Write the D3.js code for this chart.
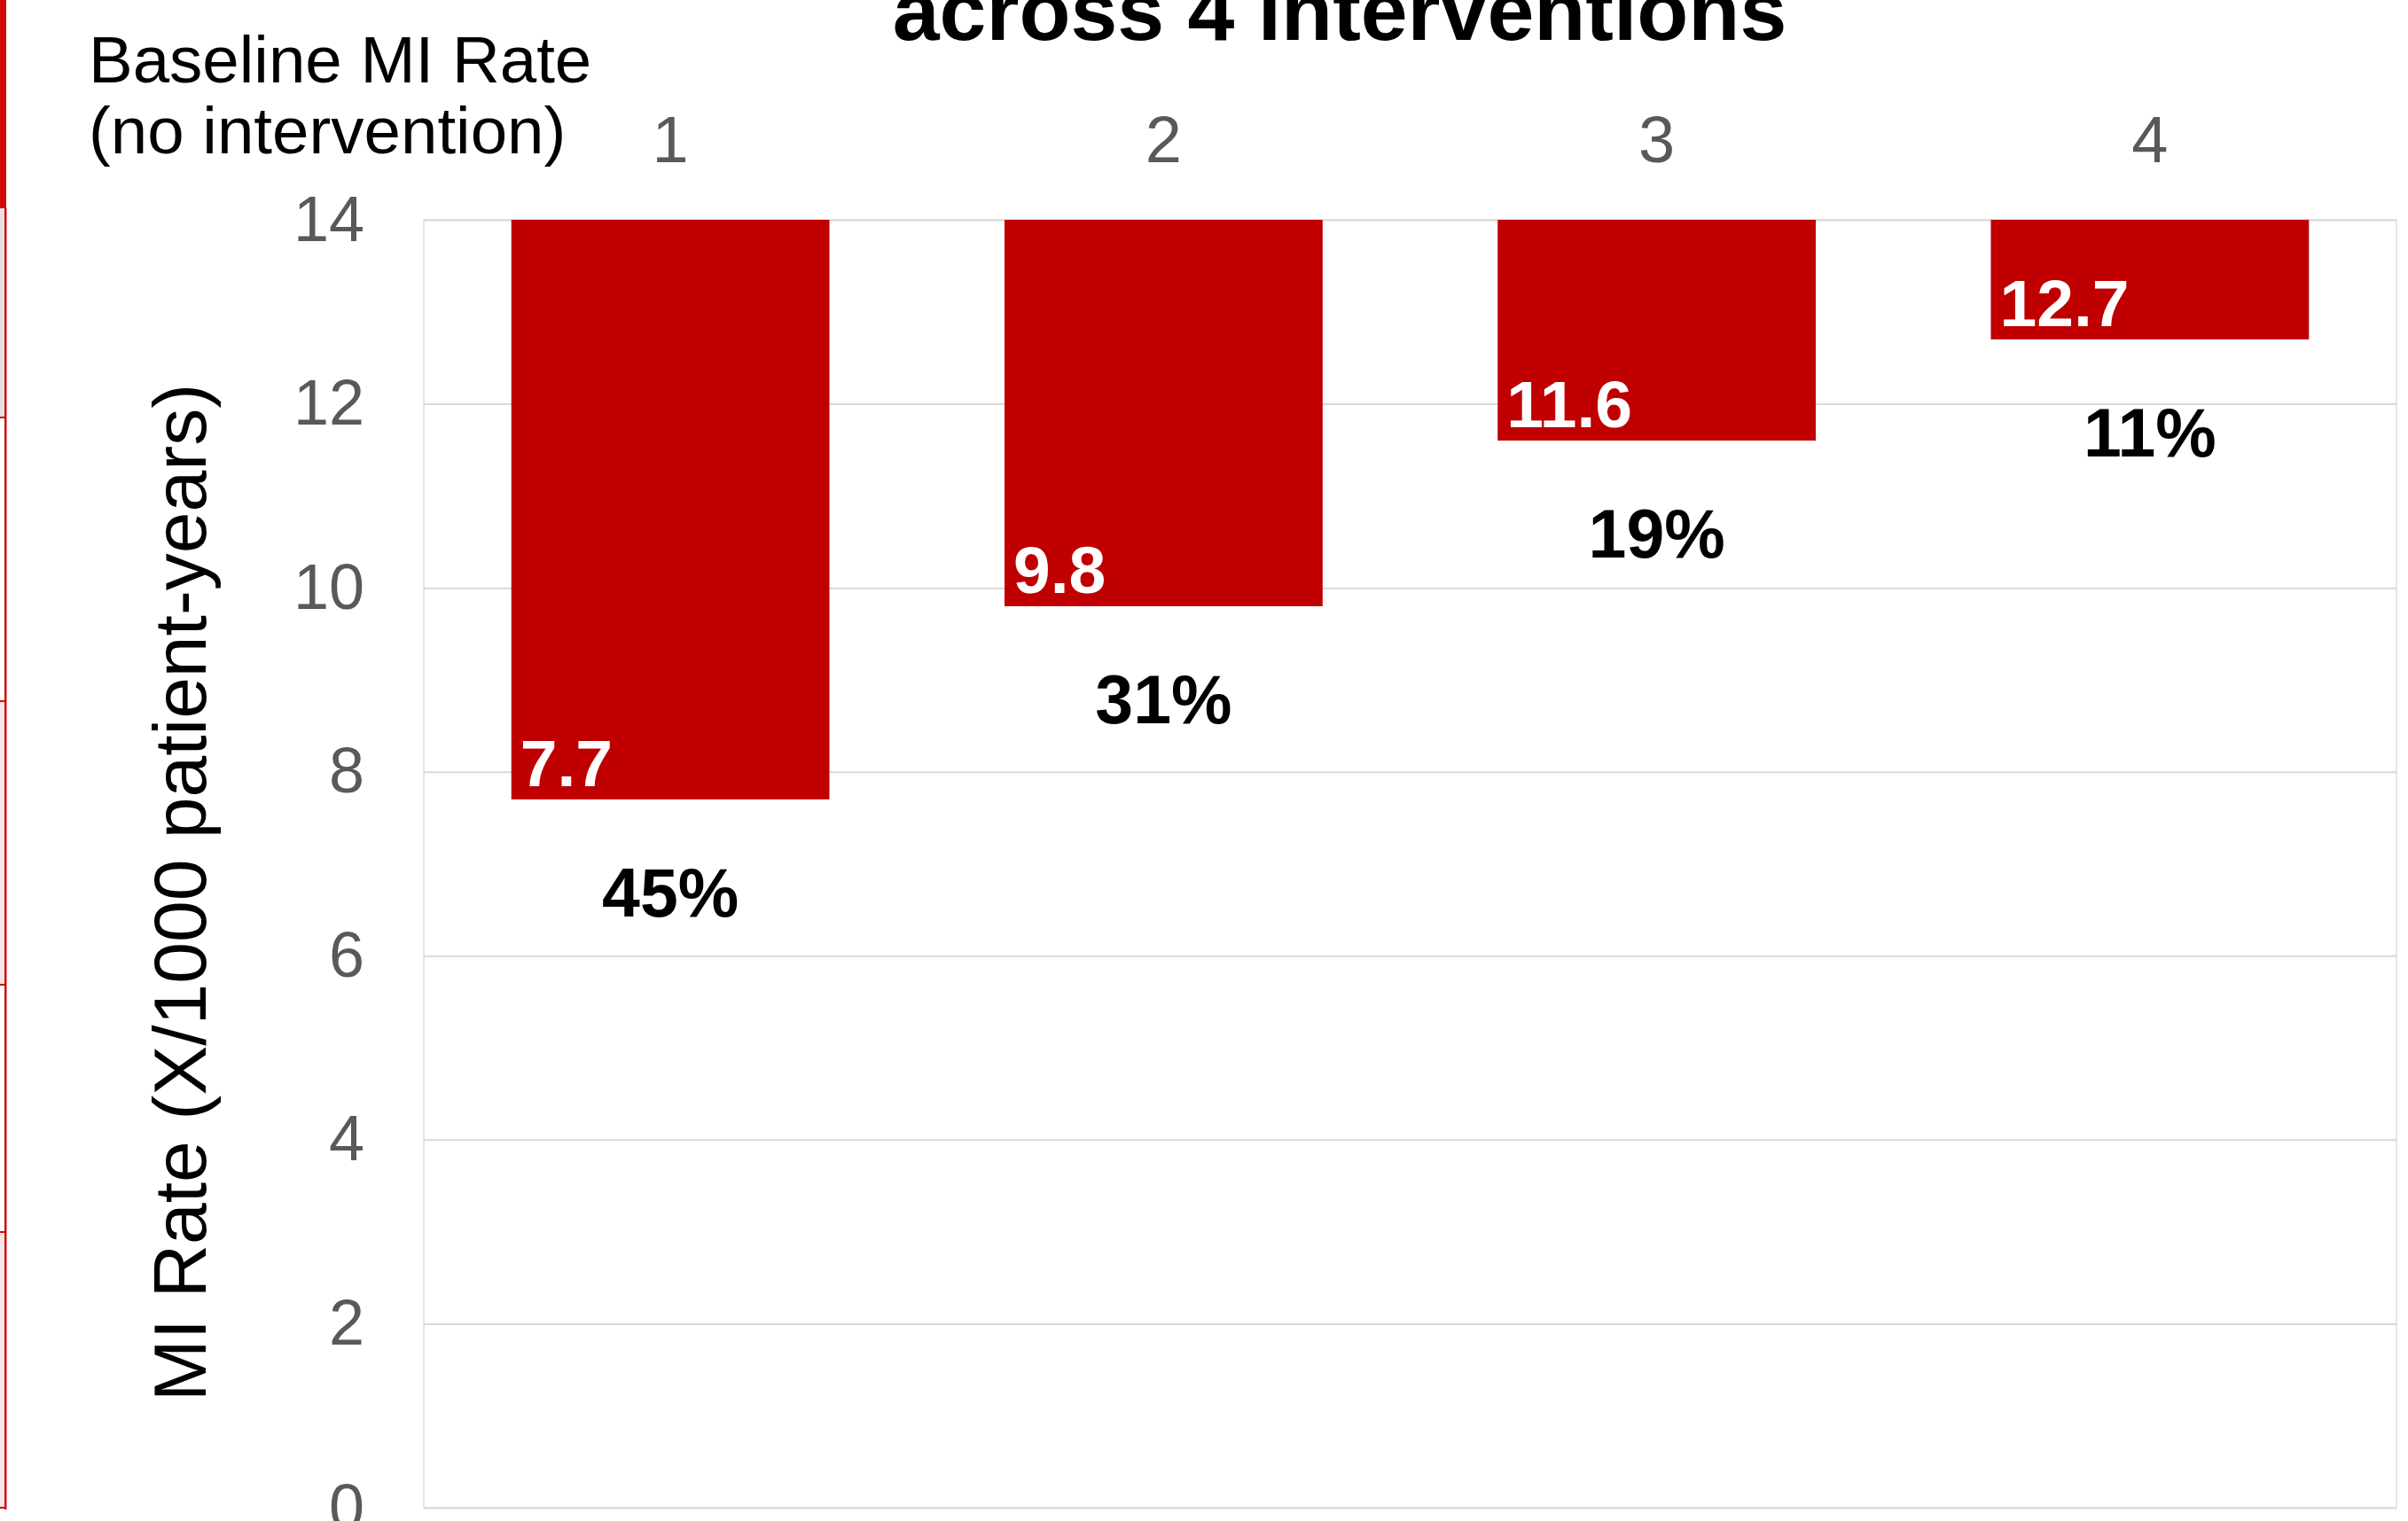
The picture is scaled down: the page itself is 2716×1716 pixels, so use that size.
<!DOCTYPE html>
<html>
<head>
<meta charset="utf-8">
<script src="https://cdn.jsdelivr.net/npm/d3@7"></script>
<style>
  html, body { margin: 0; padding: 0; background: #ffffff; }
  svg { display: block; font-family: "Liberation Sans", Arial, sans-serif; }
</style>
</head>
<body>
<div id="graph"></div>
<script>
// DATA
const interventions = ["1", "2", "3", "4"]
const miRates = [7.7, 9.8, 11.6, 12.7]
const reductions = ["45%", "31%", "19%", "11%"]
const baselineRate = 14
const yTicks = [0, 2, 4, 6, 8, 10, 12, 14]

// Colours
const barFill = "#c00000"
const gridColour = "#d9d9d9"
const tickColour = "#595959"
const edgeRed = "#d20a0a"

// Dimensions
const width = 2716
const height = 1716
const margin = { top: 248, right: 13, bottom: 15, left: 478 }
const gWidth = width - margin.left - margin.right
const gHeight = height - margin.top - margin.bottom

const svg = d3.select("#graph").append("svg")
  .attr("width", width).attr("height", height)
  .attr("viewBox", `0 0 ${width} ${height}`)

// Left edge: bit of the slide table that got cropped in
const edge = svg.append("g").attr("class", "edge")
edge.append("rect").attr("x", 0).attr("y", 0).attr("width", 7).attr("height", 235).attr("fill", edgeRed)
edge.append("rect").attr("x", 0).attr("y", 235).attr("width", 5).attr("height", 236).attr("fill", "#e2e2e2")
edge.append("rect").attr("x", 0).attr("y", 791).attr("width", 5).attr("height", 320).attr("fill", "#f3e6e6")
edge.append("rect").attr("x", 0).attr("y", 1390).attr("width", 5).attr("height", 311).attr("fill", "#f3e6e6")
edge.append("rect").attr("x", 5).attr("y", 235).attr("width", 2.5).attr("height", 1468).attr("fill", edgeRed)
;[471, 791, 1111, 1390, 1701].forEach(y => {
  edge.append("rect").attr("x", 0).attr("y", y - 1).attr("width", 7).attr("height", 2).attr("fill", edgeRed)
})

const graph = svg.append("g").attr("transform", `translate(${margin.left}, ${margin.top})`)

// Scales
const xScale = d3.scaleBand()
  .domain(interventions)
  .range([0, gWidth])
  .paddingInner(0.355)
  .paddingOuter(0.1775)

const yScale = d3.scaleLinear()
  .domain([0, baselineRate])
  .range([gHeight, 0])

// Plot frame
graph.append("rect")
  .attr("x", 0).attr("y", 0)
  .attr("width", gWidth).attr("height", gHeight)
  .attr("fill", "none")
  .attr("stroke", "#e6e6e6")
  .attr("stroke-width", 2)

// y axis with gridlines
const yAxis = graph.append("g").attr("class", "yAxis")
  .call(d3.axisLeft(yScale).tickValues(yTicks).tickSize(-gWidth).tickPadding(67))
yAxis.select(".domain").remove()
yAxis.selectAll("line").attr("stroke", gridColour).attr("stroke-width", 2)
yAxis.selectAll("text")
  .attr("fill", tickColour)
  .style("font-size", "72px")
  .style("font-family", "Liberation Sans, Arial, sans-serif")

// Intervention numbers along the top
const xAxis = graph.append("g").attr("class", "xAxis")
  .call(d3.axisTop(xScale).tickSize(0).tickPadding(65))
xAxis.select(".domain").remove()
xAxis.selectAll("text")
  .attr("fill", tickColour)
  .style("font-size", "74px")
  .style("font-family", "Liberation Sans, Arial, sans-serif")

// Bars hang down from the baseline rate to the rate with intervention
const rows = interventions.map((k, i) => ({ key: k, value: miRates[i], pct: reductions[i] }))

graph.selectAll(".bar").data(rows)
  .enter().append("rect")
  .attr("class", "bar")
  .attr("x", d => xScale(d.key))
  .attr("width", xScale.bandwidth())
  .attr("y", yScale(baselineRate))
  .attr("height", d => yScale(d.value) - yScale(baselineRate))
  .attr("fill", barFill)

// Value labels inside the bars
graph.selectAll(".value-label").data(rows)
  .enter().append("text")
  .attr("class", "value-label")
  .attr("x", d => xScale(d.key) + 10)
  .attr("y", d => yScale(d.value) - 15)
  .attr("fill", "#ffffff")
  .style("font-size", "75px")
  .style("font-weight", "bold")
  .text(d => d.value)

// Reduction percentages below the bars
graph.selectAll(".pct-label").data(rows)
  .enter().append("text")
  .attr("class", "pct-label")
  .attr("x", d => xScale(d.key) + xScale.bandwidth() / 2)
  .attr("y", d => yScale(d.value) + 132)
  .attr("text-anchor", "middle")
  .attr("fill", "#000000")
  .style("font-size", "77px")
  .style("font-weight", "bold")
  .text(d => d.pct)

// Y axis label
svg.append("text")
  .attr("class", "label")
  .attr("transform", "rotate(-90)")
  .attr("x", -1007)
  .attr("y", 232)
  .attr("text-anchor", "middle")
  .attr("fill", "#000000")
  .style("font-size", "84px")
  .text("MI Rate (X/1000 patient-years)")

// Baseline note, top left
const note = svg.append("text")
  .attr("x", 100)
  .attr("fill", "#000000")
  .style("font-size", "74.5px")
note.append("tspan").attr("x", 100).attr("y", 93).text("Baseline MI Rate")
note.append("tspan").attr("x", 100).attr("y", 173).text("(no intervention)")

// Title (cut off at the top of the picture)
svg.append("text")
  .attr("x", 1511)
  .attr("y", 45)
  .attr("text-anchor", "middle")
  .attr("fill", "#000000")
  .style("font-size", "95px")
  .style("font-weight", "bold")
  .text("across 4 interventions")
</script>
</body>
</html>
